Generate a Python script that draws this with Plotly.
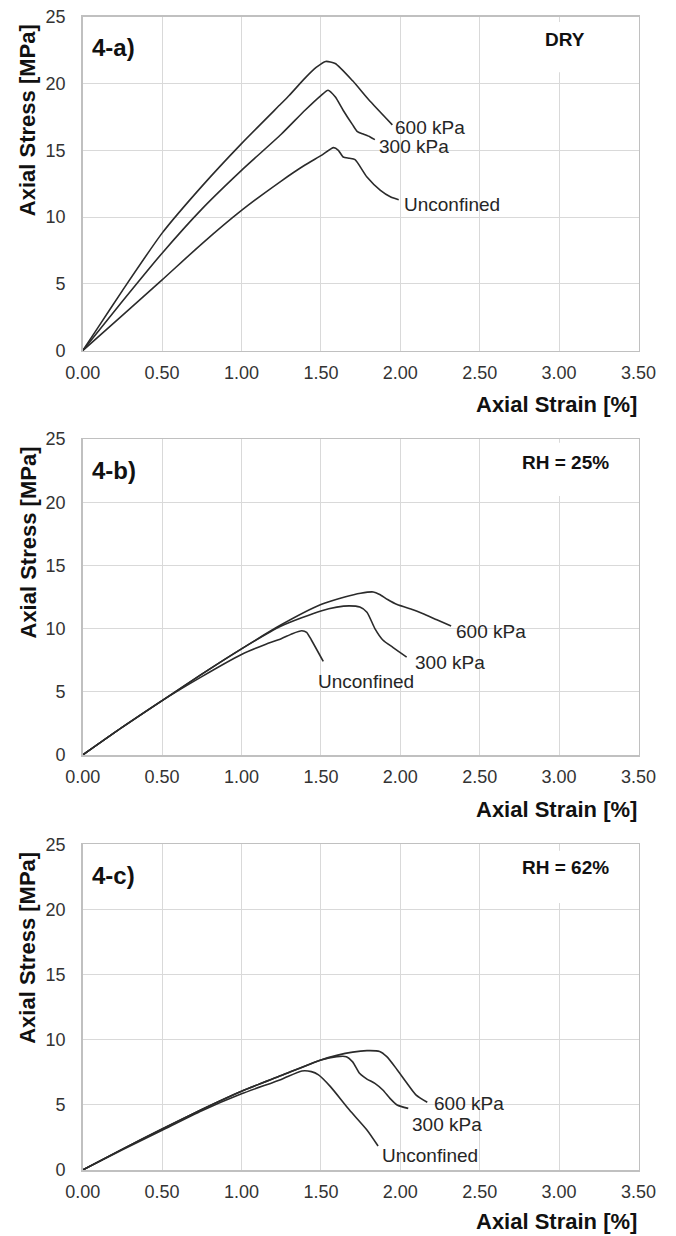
import plotly.graph_objects as go

# ---------------- data ----------------
x_tick_vals = [0, 0.5, 1.0, 1.5, 2.0, 2.5, 3.0, 3.5]
y_tick_vals = [0, 5, 10, 15, 20, 25]
panel_labels = ["4-a)", "4-b)", "4-c)"]
condition_labels = ["DRY", "RH = 25%", "RH = 62%"]
series_names = ["600 kPa", "300 kPa", "Unconfined"]

# Panel a (DRY)
strain_a_600 = [0, 0.1, 0.25, 0.5, 0.75, 1.0, 1.25, 1.3, 1.4, 1.47, 1.53, 1.59, 1.7, 1.8, 1.95]
stress_a_600 = [0, 1.8, 4.5, 8.8, 12.3, 15.5, 18.5, 19.1, 20.4, 21.2, 21.65, 21.5, 20.2, 18.8, 16.9]
strain_a_300 = [0, 0.25, 0.5, 0.75, 1.0, 1.25, 1.4, 1.5, 1.545, 1.59, 1.64, 1.7, 1.73, 1.77, 1.81, 1.84]
stress_a_300 = [0, 3.7, 7.3, 10.6, 13.5, 16.2, 18.0, 19.1, 19.5, 19.0, 18.0, 16.9, 16.4, 16.2, 16.0, 15.8]
strain_a_unc = [0, 0.25, 0.5, 0.75, 1.0, 1.25, 1.4, 1.5, 1.58, 1.61, 1.64, 1.68, 1.715, 1.79, 1.875, 1.94, 1.99]
stress_a_unc = [0, 2.65, 5.3, 8.0, 10.5, 12.7, 13.9, 14.6, 15.2, 15.0, 14.5, 14.4, 14.3, 13.0, 12.0, 11.5, 11.3]

# Panel b (RH = 25%)
strain_b_600 = [0, 0.25, 0.5, 0.75, 1.0, 1.25, 1.5, 1.65, 1.75, 1.83, 1.87, 1.92, 1.98, 2.08, 2.14, 2.23, 2.32]
stress_b_600 = [0, 2.2, 4.3, 6.4, 8.4, 10.3, 11.9, 12.5, 12.8, 12.9, 12.7, 12.3, 11.9, 11.5, 11.2, 10.7, 10.2]
strain_b_300 = [0, 0.25, 0.5, 0.75, 1.0, 1.25, 1.5, 1.6, 1.68, 1.745, 1.79, 1.84, 1.89, 1.955, 2.04]
stress_b_300 = [0, 2.2, 4.3, 6.4, 8.4, 10.2, 11.4, 11.7, 11.8, 11.7, 11.3, 10.0, 9.1, 8.5, 7.75]
strain_b_unc = [0, 0.25, 0.5, 0.75, 1.0, 1.15, 1.25, 1.32, 1.38, 1.41, 1.44, 1.515]
stress_b_unc = [0, 2.2, 4.3, 6.2, 7.95, 8.75, 9.2, 9.6, 9.83, 9.7, 9.1, 7.4]

# Panel c (RH = 62%)
strain_c_600 = [0, 0.25, 0.5, 0.75, 1.0, 1.25, 1.5, 1.6, 1.7, 1.79, 1.87, 1.915, 1.98, 2.04, 2.10, 2.17]
stress_c_600 = [0, 1.6, 3.15, 4.65, 6.05, 7.25, 8.45, 8.8, 9.05, 9.16, 9.1, 8.7, 7.7, 6.7, 5.75, 5.2]
strain_c_300 = [0, 0.25, 0.5, 0.75, 1.0, 1.25, 1.5, 1.6, 1.66, 1.70, 1.745, 1.79, 1.84, 1.89, 1.935, 1.98, 2.05]
stress_c_300 = [0, 1.6, 3.15, 4.65, 6.05, 7.25, 8.45, 8.7, 8.7, 8.3, 7.4, 6.98, 6.65, 6.14, 5.5, 4.99, 4.73]
strain_c_unc = [0, 0.25, 0.5, 0.75, 1.0, 1.25, 1.38, 1.44, 1.485, 1.56, 1.68, 1.79, 1.86]
stress_c_unc = [0, 1.55, 3.05, 4.55, 5.85, 6.95, 7.6, 7.55, 7.3, 6.4, 4.6, 3.07, 1.84]

# curve label anchor points (strain, stress)
label_pos_a = [(1.952, 16.7), (1.851, 15.27), (2.009, 10.98)]
label_pos_b = [(2.338, 9.75), (2.078, 7.3), (1.469, 5.85)]
label_pos_c = [(2.198, 5.12), (2.061, 3.53), (1.872, 1.15)]

panels = [
    [(strain_a_600, stress_a_600), (strain_a_300, stress_a_300), (strain_a_unc, stress_a_unc)],
    [(strain_b_600, stress_b_600), (strain_b_300, stress_b_300), (strain_b_unc, stress_b_unc)],
    [(strain_c_600, stress_c_600), (strain_c_300, stress_c_300), (strain_c_unc, stress_c_unc)],
]
label_positions = [label_pos_a, label_pos_b, label_pos_c]

# ---------------- layout geometry (pixels) ----------------
W, H = 676, 1236
x_left_px, x_right_px = 82.7, 638.5
panel_px = [(16.7, 350.7), (439.0, 755.0), (844.3, 1170.0)]  # (top, bottom)
xtitle_gap = [54, 54, 51]
box_top_stress = [24.6, 24.7, 24.5]
box_bot_stress = [20.85, 20.5, 20.5]

FONT = "Liberation Sans, Arial, sans-serif"
TXT = "#262626"

fig = go.Figure()
annotations = []
shapes = []

xdom = [x_left_px / W, x_right_px / W]

for i, (series, lpos) in enumerate(zip(panels, label_positions)):
    n = "" if i == 0 else str(i + 1)
    top, bot = panel_px[i]
    ydom = [1 - bot / H, 1 - top / H]
    for (xs, ys), name in zip(series, series_names):
        fig.add_trace(go.Scatter(
            x=xs, y=ys, mode="lines", name=name, showlegend=False,
            line=dict(color="#2b2b2b", width=1.6, shape="spline", smoothing=0.6),
            xaxis="x" + n, yaxis="y" + n,
        ))
    axis_common = dict(
        showgrid=True, gridcolor="#d9d9d9", gridwidth=1,
        showline=True, linecolor="#c0c0c0", linewidth=1.5, mirror=True,
        zeroline=False, ticks="", automargin=False,
        tickfont=dict(family=FONT, size=18, color="#333333"),
    )
    fig.update_layout(**{
        "xaxis" + n: dict(domain=xdom, range=[0, 3.5], tickvals=x_tick_vals,
                          tickformat=".2f", anchor="y" + n,
                          ticklabelstandoff=5, **axis_common),
        "yaxis" + n: dict(domain=ydom, range=[0, 25], tickvals=y_tick_vals,
                          anchor="x" + n, ticklabelstandoff=12, **axis_common),
    })
    xr = "x" + n
    yr = "y" + n
    # curve labels
    for (lx, ly), name in zip(lpos, series_names):
        annotations.append(dict(x=lx, y=ly, xref=xr, yref=yr, text=name,
                                showarrow=False, xanchor="left", yanchor="middle",
                                font=dict(family=FONT, size=19, color=TXT)))
    # white text box covering the grid line
    shapes.append(dict(type="rect", xref=xr, yref=yr, x0=2.7, x1=3.4,
                       y0=box_bot_stress[i], y1=box_top_stress[i],
                       fillcolor="white", line=dict(width=0), layer="above"))
    # panel label
    annotations.append(dict(x=90 / W, y=1 - (top + 31) / H, xref="paper", yref="paper",
                            text="<b>%s</b>" % panel_labels[i], showarrow=False,
                            xanchor="left", yanchor="middle",
                            font=dict(family=FONT, size=24, color="#111111")))
    # condition label
    annotations.append(dict(x=565 / W, y=1 - (top + 23) / H, xref="paper", yref="paper",
                            text="<b>%s</b>" % condition_labels[i], showarrow=False,
                            xanchor="center", yanchor="middle",
                            font=dict(family=FONT, size=19, color="#111111")))
    # x title
    annotations.append(dict(x=x_right_px / W, y=1 - (bot + xtitle_gap[i]) / H,
                            xref="paper", yref="paper",
                            text="<b>Axial Strain [%]</b>", showarrow=False,
                            xanchor="right", yanchor="middle",
                            font=dict(family=FONT, size=22, color="#111111")))
    # y title
    annotations.append(dict(x=27.5 / W, y=1 - (top + 6) / H, xref="paper", yref="paper",
                            text="<b>Axial Stress [MPa]</b>", showarrow=False,
                            textangle=-90, xanchor="center", yanchor="top",
                            font=dict(family=FONT, size=22, color="#111111")))

fig.update_layout(
    width=W, height=H,
    margin=dict(l=0, r=0, t=0, b=0),
    paper_bgcolor="white", plot_bgcolor="white",
    annotations=annotations, shapes=shapes,
    showlegend=False, hovermode=False,
)

fig.write_html(
    "out.html",
    config={"displayModeBar": False, "staticPlot": True},
    post_script="document.body.style.margin='0';document.body.style.overflow='hidden';",
)
